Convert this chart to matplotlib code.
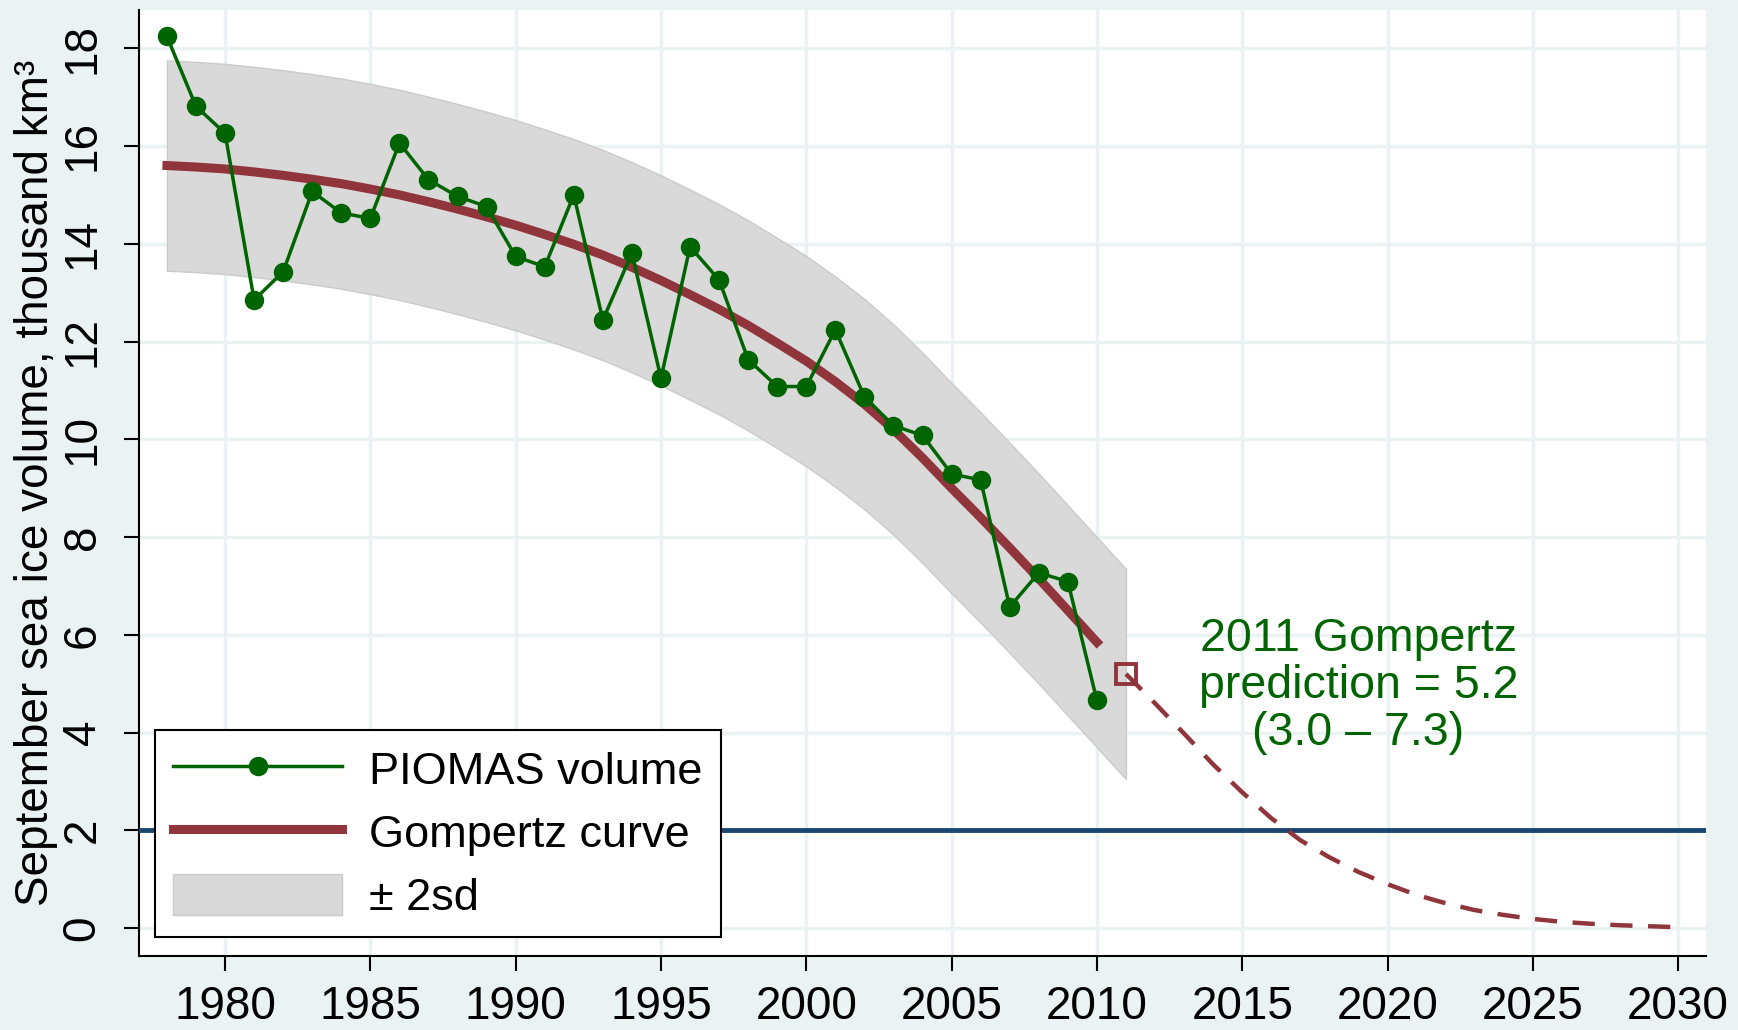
import matplotlib
matplotlib.use("Agg")
import matplotlib.pyplot as plt
from matplotlib.patches import Patch
from matplotlib.lines import Line2D

plt.rcParams["font.family"] = ["Liberation Sans", "DejaVu Sans"]

# %% Data (thousand km3)
years_obs = list(range(1978, 2011))
piomas = [18.24, 16.81, 16.26, 12.85, 13.43, 15.07, 14.63, 14.52, 16.06, 15.31,
          14.97, 14.76, 13.74, 13.53, 15.00, 12.44, 13.81, 11.25, 13.94, 13.26,
          11.63, 11.08, 11.08, 12.24, 10.87, 10.28, 10.08, 9.29, 9.17, 6.57,
          7.27, 7.09, 4.66]

# fitted Gompertz curve over the observed years
gomp_fit = [15.60, 15.57, 15.53, 15.47, 15.40, 15.32, 15.23, 15.12, 15.00, 14.86,
            14.71, 14.55, 14.38, 14.19, 13.99, 13.77, 13.52, 13.25, 12.96, 12.66,
            12.33, 11.97, 11.60, 11.18, 10.72, 10.20, 9.62, 9.00, 8.40, 7.78,
            7.15, 6.50, 5.85]

# +/- 2sd band, 1978-2011
years_band = list(range(1978, 2012))
band_hi = [17.75, 17.72, 17.68, 17.62, 17.55, 17.47, 17.38, 17.27, 17.15, 17.01,
           16.86, 16.70, 16.53, 16.34, 16.14, 15.92, 15.67, 15.40, 15.11, 14.81,
           14.48, 14.12, 13.75, 13.33, 12.87, 12.35, 11.77, 11.15, 10.55, 9.93,
           9.30, 8.65, 8.00, 7.35]
band_lo = [13.45, 13.42, 13.38, 13.32, 13.25, 13.17, 13.08, 12.97, 12.85, 12.71,
           12.56, 12.40, 12.23, 12.04, 11.84, 11.62, 11.37, 11.10, 10.81, 10.51,
           10.18, 9.82, 9.45, 9.03, 8.57, 8.05, 7.47, 6.85, 6.25, 5.63,
           5.00, 4.35, 3.70, 3.05]

# projection from the 2011 prediction onwards
years_proj = list(range(2011, 2031))
gomp_proj = [5.20, 4.60, 3.98, 3.35, 2.78, 2.25, 1.80, 1.45, 1.15, 0.90,
             0.68, 0.51, 0.37, 0.27, 0.19, 0.13, 0.09, 0.06, 0.04, 0.02]

pred_year = 2011
pred_value = 5.2
threshold = 2

x_ticks = list(range(1980, 2031, 5))
y_ticks = list(range(0, 19, 2))

# %% Colours (Stata s2color-ish)
bg = "#EAF2F3"
green = "#006400"
cranberry = "#90353B"
navy = "#1A476F"
band_col = "#D9D9D9"

# %% Plot
fig = plt.figure(figsize=(17.38, 10.30), dpi=100, facecolor=bg)
ax = fig.add_axes([0.0800, 0.0718, 0.9016, 0.9184])
ax.set_facecolor("white")

ax.fill_between(years_band, band_lo, band_hi, color=band_col, edgecolor="#CBCBCB",
                lw=1, zorder=2)
ax.axhline(threshold, color=navy, lw=3.5, zorder=3)
ax.plot(years_obs, gomp_fit, color=cranberry, lw=6.5, zorder=4)
ax.plot(years_proj, gomp_proj, color=cranberry, lw=3.2, ls=(0, (5, 3.5)), zorder=4)
ax.plot([pred_year], [pred_value], marker="s", ms=14, mfc="none", mec=cranberry,
        mew=2.8, zorder=5)
ax.plot(years_obs, piomas, color=green, lw=2.5, marker="o", ms=13, mfc=green,
        mec=green, zorder=6)

ax.text(2019, 4.95, "2011 Gompertz\nprediction = 5.2\n(3.0 \u2013 7.3)", color=green,
        fontsize=33.5, ha="center", va="center", linespacing=1.08, zorder=7)

# axes, ticks, grid
ax.set_xlim(1977.04, 2030.96)
ax.set_ylim(-0.57, 18.78)
ax.set_xticks(x_ticks)
ax.set_yticks(y_ticks)
ax.grid(True, color=bg, lw=2.5, zorder=0)
ax.set_axisbelow(True)
for s in ["top", "right"]:
    ax.spines[s].set_visible(False)
for s in ["left", "bottom"]:
    ax.spines[s].set_linewidth(1.5)
ax.tick_params(direction="out", length=10.8, width=1.5, labelsize=33)
ax.tick_params(axis="x", pad=10)
ax.tick_params(axis="y", pad=14, labelrotation=90)
for lab in ax.get_yticklabels():
    lab.set_va("center")

ax.set_ylabel("September sea ice volume, thousand km\u00b3", fontsize=33)
ax.yaxis.set_label_coords(-0.0517, 0.5)

# legend
handles = [
    Line2D([], [], color=green, lw=2.5, marker="o", ms=13, mfc=green, mec=green),
    Line2D([], [], color=cranberry, lw=6.5),
    Patch(facecolor=band_col, edgecolor="#CBCBCB"),
]
labels = ["PIOMAS volume", "Gompertz curve", "\u00b1 2sd"]
leg = ax.legend(handles, labels, loc="lower left", fontsize=32.5, numpoints=1,
                bbox_to_anchor=(155 / 1738, (1030 - 937) / 1030),
                bbox_transform=fig.transFigure, borderaxespad=0,
                handlelength=3.75, handleheight=1.05, handletextpad=0.6,
                labelspacing=0.39, borderpad=0.4, fancybox=False, framealpha=1)
leg.get_frame().set_edgecolor("black")
leg.get_frame().set_linewidth(1.5)
leg.set_zorder(10)

plt.savefig("out.png", dpi=100, facecolor=bg)
